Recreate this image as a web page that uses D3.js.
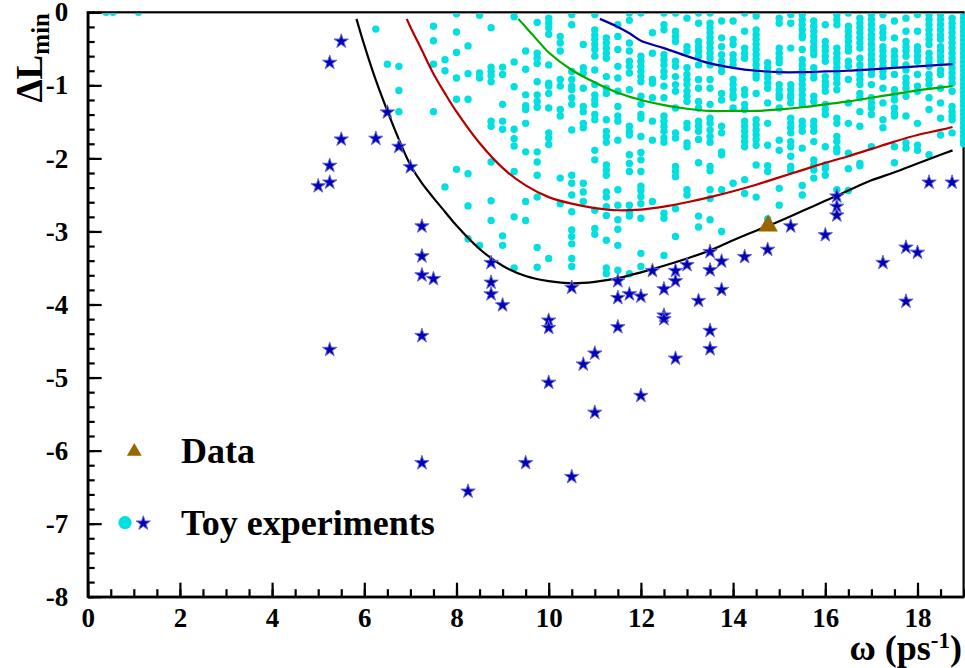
<!DOCTYPE html>
<html>
<head>
<meta charset="utf-8">
<script src="https://cdn.jsdelivr.net/npm/d3@7"></script>
<style>
  body { margin: 0; background: #fff; }
  text { font-family: "Liberation Serif", "Times New Roman", serif; font-weight: bold; }
</style>
</head>
<body>
<svg id="chart" width="965" height="668"></svg>
<script>
// ---- axis ticks ----
const omegaTicks = [0, 2, 4, 6, 8, 10, 12, 14, 16, 18];
const dlTicks = [0, -1, -2, -3, -4, -5, -6, -7, -8];

// ---- toy experiments, cyan markers: one column of ΔLmin values per ω grid point ----
const toyGridOmega = [0.4, 0.55, 1.1, 6.25, 6.5, 6.75, 7.5, 7.75, 8.0, 8.25, 8.5, 8.75, 9.0, 9.25, 9.5, 9.75,
  10.0, 10.25, 10.5, 10.75, 11.0, 11.25, 11.5, 11.75, 12.0, 12.25, 12.5, 12.75, 13.0, 13.25, 13.5, 13.75,
  14.0, 14.25, 14.5, 14.75, 15.0, 15.25, 15.5, 15.75, 16.0, 16.25, 16.5, 16.75, 17.0, 17.25, 17.5, 17.75,
  18.0, 18.25, 18.5, 18.75, 19.0];
const toyGridDL = [
  [0], [0], [0],
  [-0.23],
  [-0.71],
  [-0.74, -1.07, -1.36],
  [-0.19, -0.39, -0.71, -1.36],
  [-0.65, -0.80, -2.39],
  [-0.02, -0.27, -0.55, -0.90, -1.19, -2.15],
  [-0.46, -0.84, -1.19, -2.21, -2.65, -3.10],
  [-0.04, -0.83, -0.90, -3.19],
  [-0.21, -0.75, -0.81, -0.87, -0.95, -1.49, -1.56, -2.05, -2.58, -2.85],
  [-0.75, -0.85, -1.26, -1.49, -1.60, -3.06, -3.19],
  [-0.06, -0.68, -1.02, -1.60, -1.73, -1.83, -2.18, -2.80, -3.50],
  [-0.53, -0.78, -1.13, -1.28, -1.33, -1.52, -1.91, -2.59, -2.85],
  [-0.14, -0.56, -0.63, -0.70, -0.95, -1.13, -1.22, -1.30, -1.91, -2.05, -2.23, -2.53, -3.22, -3.49],
  [-0.08, -0.15, -0.21, -0.30, -0.72, -0.97, -1.01, -1.11, -1.31, -1.65, -1.72, -1.81, -3.37],
  [-0.33, -0.42, -0.53, -0.92, -1.01, -1.33, -1.42, -2.27, -2.62],
  [-0.03, -0.17, -0.81, -0.92, -1.01, -1.06, -1.17, -1.26, -1.61, -2.23, -2.34, -2.50, -2.73, -2.98, -3.07, -3.17, -3.37, -3.48],
  [-0.44, -0.76, -0.83, -1.04, -1.29, -1.36, -1.52, -1.58, -2.34, -2.46, -2.59],
  [-0.03, -0.24, -0.31, -0.37, -0.44, -0.51, -0.60, -0.79, -0.99, -1.13, -1.20, -1.26, -1.40, -1.47, -1.89, -2.02, -2.71, -2.96, -3.04],
  [-0.35, -0.42, -0.49, -0.56, -0.63, -0.88, -1.04, -1.11, -1.47, -1.63, -1.70, -1.78, -2.09, -2.16, -2.23, -2.46, -2.53, -2.66, -2.78, -3.12, -3.50, -3.58],
  [-0.17, -0.33, -0.51, -0.74, -0.90, -1.08, -1.29, -1.42, -1.49, -1.75, -2.43, -2.64, -2.84, -2.97, -3.19, -3.53],
  [-0.01, -0.11, -0.42, -0.53, -0.67, -0.74, -0.83, -1.06, -1.56, -1.63, -1.68, -1.95, -2.07, -2.18, -2.64, -2.73, -2.79, -3.58],
  [-0.01, -0.60, -0.67, -0.74, -0.81, -0.88, -0.95, -1.15, -1.26, -1.40, -1.45, -1.70, -1.92, -2.02, -2.18, -2.38, -2.44, -2.52, -2.62, -2.82, -3.30, -3.48],
  [-0.28, -0.56, -0.92, -0.97, -1.17, -1.49, -1.75, -2.59],
  [-0.01, -0.17, -0.24, -0.58, -0.65, -0.72, -0.81, -0.88, -1.01, -1.17, -1.42, -1.49, -1.56, -1.63, -1.72, -1.78, -2.75, -2.82, -3.33],
  [-0.01, -0.26, -0.33, -0.40, -0.67, -0.74, -0.88, -0.99, -1.08, -1.31, -1.65, -1.72, -2.11, -2.18, -2.25, -2.69, -3.07],
  [-0.08, -0.47, -0.53, -0.76, -0.85, -0.92, -0.99, -1.08, -1.15, -1.22, -1.52, -1.58, -1.79, -1.84, -2.43, -2.50],
  [-0.01, -0.15, -0.40, -0.47, -0.53, -0.60, -0.72, -0.92, -1.04, -1.22, -1.31, -1.49, -1.56, -1.63, -1.74, -2.06, -2.79, -2.94],
  [-0.01, -0.15, -0.21, -0.28, -0.35, -0.42, -0.49, -0.56, -0.63, -0.72, -0.92, -1.04, -1.26, -1.45, -1.52, -1.61, -1.70, -1.78, -2.11, -2.17, -2.43, -2.55, -2.84],
  [-0.12, -0.35, -0.47, -0.58, -0.67, -0.74, -0.81, -1.11, -1.20, -1.56, -1.65, -1.91, -1.95, -2.43, -3.00],
  [-0.12, -0.37, -0.44, -0.58, -0.65, -0.72, -0.92, -0.99, -1.06, -1.13, -1.17, -1.31, -2.34],
  [-0.01, -0.26, -0.49, -0.56, -0.63, -1.06, -1.13, -1.26, -1.33, -1.49, -1.56, -1.63, -1.70, -1.77, -1.84, -2.29, -2.48],
  [-0.05, -0.24, -0.31, -0.37, -0.44, -0.51, -0.58, -0.65, -0.72, -0.79, -0.85, -0.90, -1.11, -1.47, -1.54, -1.61, -1.68, -1.74, -1.82, -2.09, -2.53],
  [-0.69, -0.76, -0.83, -0.90, -0.97, -1.04, -1.24, -1.52, -1.82, -2.10, -2.18, -2.83],
  [-0.08, -0.15, -0.49, -0.56, -0.63, -0.69, -0.81, -0.99, -1.06, -1.13, -1.17, -1.31, -1.75, -1.89, -2.41, -2.64],
  [-0.03, -0.15, -0.49, -0.99, -1.06, -1.13, -1.17, -1.24, -1.45, -1.52, -1.58, -1.65, -1.77, -1.84, -1.97, -2.11, -2.17],
  [-0.03, -0.10, -0.17, -0.24, -0.31, -0.35, -0.51, -0.65, -0.72, -0.79, -0.85, -0.92, -0.99, -1.06, -1.13, -1.20, -1.26, -1.49, -1.56, -1.63, -1.86, -2.37, -2.50],
  [-0.12, -0.19, -0.26, -0.33, -0.40, -0.47, -0.53, -0.58, -0.76, -0.83, -0.90, -1.15, -1.22, -1.49, -1.56, -1.63, -1.77, -2.02, -2.09, -2.16, -2.27],
  [-0.17, -0.40, -0.47, -0.53, -0.60, -0.67, -0.88, -0.95, -1.01, -1.08, -1.26, -1.33, -1.40, -1.84, -2.09, -2.14, -2.23],
  [-0.03, -0.10, -0.17, -0.49, -0.56, -0.63, -0.69, -0.76, -0.83, -0.90, -0.97, -1.06, -1.45, -1.52, -1.70, -1.77, -1.86, -1.91, -2.43],
  [-0.01, -0.19, -0.26, -0.33, -0.40, -0.47, -0.53, -0.67, -0.74, -0.92, -1.24, -1.52, -1.93, -2.14, -2.44],
  [-0.08, -0.15, -0.21, -0.28, -0.35, -0.42, -0.49, -0.63, -0.72, -0.79, -0.85, -0.92, -0.99, -1.11, -1.17, -1.36, -1.56, -2.07, -2.10],
  [-0.03, -0.10, -0.17, -0.24, -0.31, -0.37, -0.44, -0.51, -0.58, -0.65, -0.72, -0.79, -0.85, -0.99, -1.17, -1.24, -1.31, -1.40, -1.84],
  [-0.03, -0.21, -0.28, -0.35, -0.47, -0.53, -0.60, -0.67, -0.74, -0.81, -0.88, -1.04, -1.24, -1.47, -1.58],
  [-0.12, -0.35, -0.53, -0.60, -0.67, -0.72, -0.85, -1.06, -1.13, -1.20, -1.31, -1.38, -1.42, -1.84, -2.06],
  [-0.08, -0.26, -0.40, -0.47, -0.53, -0.60, -0.72, -0.79, -0.90, -0.97, -1.04, -1.15, -1.42, -1.79, -1.86],
  [-0.03, -0.26, -0.47, -0.53, -0.60, -0.67, -0.85, -1.01, -1.08, -1.52, -1.82, -1.89],
  [-0.03, -0.10, -0.17, -0.24, -0.31, -0.37, -0.44, -0.56, -0.63, -0.69, -0.74, -0.85, -0.92, -0.99, -1.17, -1.33, -1.95],
  [-0.03, -0.10, -0.17, -0.24, -0.31, -0.37, -0.47, -0.53, -0.60, -0.67, -0.79, -0.85, -1.04, -1.24, -1.45, -1.68],
  [-0.08, -0.15, -0.21, -0.28, -0.35, -0.42, -0.49, -0.56, -0.63, -0.69, -0.76, -0.83, -0.90, -0.97, -1.08, -1.29, -1.36, -1.42, -1.47, -1.65],
  [-0.02, -0.08, -0.14, -0.20, -0.26, -0.32, -0.38, -0.44, -0.50, -0.56, -0.62, -0.68, -0.74, -0.80, -0.86, -0.92, -0.98, -1.04,
   -1.10, -1.16, -1.22, -1.28, -1.34, -1.40, -1.46, -1.52, -1.58, -1.64, -1.70, -1.76, -1.80]
];

// ---- toy experiments, star markers ----
const toyStarOmega = [5.0, 5.25, 5.25, 5.25, 5.5, 5.5, 6.25, 6.5, 6.75, 7.0, 7.25, 7.25, 7.25, 7.5, 8.75, 8.75, 8.75, 9.0,
  7.25, 5.25, 10.0, 10.0, 10.5, 11.0, 10.75, 11.5, 11.5, 11.5, 10.0, 11.0, 7.25, 9.5, 10.5, 8.25, 12.0,
  11.75, 12.0, 12.25, 12.5, 12.5, 12.5, 12.75, 12.75, 13.0, 12.75, 13.25, 13.5, 13.5, 13.5, 13.5, 13.75, 13.75,
  14.25, 14.75, 15.25, 16.0, 16.25, 16.25, 16.25, 17.25, 17.75, 18.0, 17.75, 18.25, 18.75];
const toyStarDL = [-2.37, -2.32, -2.09, -0.68, -0.39, -1.73, -1.72, -1.36, -1.83, -2.11, -2.92, -3.33, -3.59, -3.64, -3.42, -3.69, -3.85, -4.00,
  -4.42, -4.61, -4.21, -4.31, -3.76, -4.66, -4.81, -3.67, -3.90, -4.30, -5.06, -5.47, -6.16, -6.16, -6.35, -6.55, -5.24,
  -3.85, -3.88, -3.53, -3.78, -4.14, -4.19, -3.53, -3.67, -3.45, -4.73, -3.94, -3.27, -3.52, -4.35, -4.60, -3.40, -3.79,
  -3.34, -3.24, -2.92, -3.04, -2.51, -2.65, -2.77, -3.42, -3.21, -3.28, -3.95, -2.32, -2.32];

// ---- measured data point ----
const dataOmega = [14.76];
const dataDL = [-2.91];

// ---- ΔLmin contour curves ----
const curveBlackOmega = [5.83, 6.0, 6.25, 6.5, 6.75, 7.0, 7.25, 7.5, 7.75, 8.0, 8.5, 9.0, 9.5, 10.0, 10.5, 11.0, 11.5, 12.0,
  12.5, 13.0, 13.5, 14.0, 14.5, 15.0, 15.5, 16.0, 16.5, 17.0, 17.5, 18.0, 18.5, 18.76];
const curveBlackDL = [-0.09, -0.45, -0.93, -1.35, -1.74, -2.09, -2.34, -2.54, -2.73, -2.92, -3.24, -3.47, -3.61, -3.68, -3.71, -3.69, -3.64, -3.56,
  -3.47, -3.37, -3.26, -3.12, -2.99, -2.86, -2.72, -2.58, -2.44, -2.30, -2.19, -2.07, -1.95, -1.89];
const curveRedOmega = [6.92, 7.0, 7.25, 7.5, 7.75, 8.0, 8.5, 9.0, 9.5, 10.0, 10.5, 11.0, 11.5, 12.0, 12.5, 13.0, 13.5, 14.0,
  14.5, 15.0, 15.5, 16.0, 16.5, 17.0, 17.5, 18.0, 18.5, 18.76];
const curveRedDL = [-0.09, -0.20, -0.52, -0.84, -1.11, -1.36, -1.79, -2.13, -2.37, -2.53, -2.62, -2.68, -2.71, -2.70, -2.66, -2.60, -2.53, -2.45,
  -2.36, -2.26, -2.16, -2.06, -1.97, -1.87, -1.77, -1.68, -1.61, -1.57];
const curveGreenOmega = [9.34, 9.5, 9.88, 10.0, 10.5, 11.0, 11.5, 12.0, 12.5, 13.0, 13.5, 14.0, 14.5, 15.0, 15.5, 16.0, 16.5,
  17.0, 17.5, 18.0, 18.5, 18.76];
const curveGreenDL = [-0.09, -0.20, -0.47, -0.55, -0.79, -0.96, -1.10, -1.20, -1.27, -1.32, -1.35, -1.35, -1.35, -1.33, -1.30, -1.26, -1.22,
  -1.17, -1.12, -1.07, -1.03, -1.01];
const curveBlueOmega = [11.11, 11.5, 11.76, 12.0, 12.5, 13.0, 13.5, 14.0, 14.5, 15.0, 15.5, 16.0, 16.5, 17.0, 17.5, 18.0, 18.5, 18.76];
const curveBlueDL = [-0.09, -0.20, -0.29, -0.39, -0.49, -0.60, -0.70, -0.76, -0.80, -0.82, -0.82, -0.81, -0.80, -0.78, -0.76, -0.74, -0.72, -0.71];

const legendLabels = ["Data", "Toy experiments"];

// ---- layout ----
const svg = d3.select("#chart");
const x = d3.scaleLinear().domain([0, 19]).range([87.7, 963.6]);
const y = d3.scaleLinear().domain([-8, 0]).range([596.7, 12.3]);
const cyan = "#00e0e0", starBlue = "#0000b4", starEdge = "#6464dc", dataBrown = "#996600";

// clip region for the scattered markers (keeps them inside the frame)
svg.append("defs").append("clipPath").attr("id", "plotClip")
  .append("rect").attr("x", x(0)).attr("y", y(0) + 1.1).attr("width", 975 - x(0)).attr("height", y(-8) - y(0));

// frame (top and right edges)
svg.append("rect")
  .attr("x", x(0)).attr("y", y(0)).attr("width", x(19) - x(0)).attr("height", y(-8) - y(0))
  .attr("fill", "none").attr("stroke", "#000").attr("stroke-width", 2.2);

// cyan toy markers
const gridPoints = [];
toyGridOmega.forEach((w, i) => toyGridDL[i].forEach(v => gridPoints.push([w, v])));
svg.append("g").attr("clip-path", "url(#plotClip)")
  .selectAll("circle").data(gridPoints).join("circle")
  .attr("cx", d => x(d[0])).attr("cy", d => y(d[1])).attr("r", 3.7).attr("fill", cyan);

// contour curves
const line = d3.line().x(d => x(d[0])).y(d => y(d[1])).curve(d3.curveCatmullRom.alpha(0.5));
const curves = [
  [curveBlackOmega, curveBlackDL, "#000000"],
  [curveRedOmega, curveRedDL, "#b40000"],
  [curveGreenOmega, curveGreenDL, "#00aa00"],
  [curveBlueOmega, curveBlueDL, "#0000aa"]
];
curves.forEach(([ws, vs, col]) => {
  svg.append("path").datum(ws.map((w, i) => [w, vs[i]]))
    .attr("d", line).attr("fill", "none").attr("stroke", col).attr("stroke-width", 2.2);
});

// star markers
const star = d3.symbol().type(d3.symbolStar).size(64);
svg.append("g").selectAll("path").data(toyStarOmega.map((w, i) => [w, toyStarDL[i]])).join("path")
  .attr("d", star)
  .attr("transform", d => `translate(${x(d[0])},${y(d[1]) + 0.6})`)
  .attr("fill", starBlue).attr("stroke", starEdge).attr("stroke-width", 1);

// data triangle
const tri = d3.symbol().type(d3.symbolTriangle).size(165);
svg.append("g").selectAll("path").data(dataOmega.map((w, i) => [w, dataDL[i]])).join("path")
  .attr("d", tri)
  .attr("transform", d => `translate(${x(d[0])},${y(d[1]) + 1})`)
  .attr("fill", dataBrown);

// axes
const axisFont = 27;
const plainNumber = d => String(d);
const yMajor = d3.axisLeft(y).tickValues(dlTicks).tickSize(-14).tickSizeOuter(0).tickPadding(19.5)
  .tickFormat(plainNumber);
const yMinor = d3.axisLeft(y).tickValues(d3.range(0, 41).map(i => -i * 0.2)).tickSize(-7).tickSizeOuter(0).tickFormat("");
const xMajor = d3.axisBottom(x).tickValues(omegaTicks).tickSize(-14).tickSizeOuter(0).tickPadding(11)
  .tickFormat(plainNumber);
const xMinor = d3.axisBottom(x).tickValues(d3.range(0, 39).map(i => i * 0.5)).tickSize(-7.5).tickSizeOuter(0).tickFormat("");

function styleAxis(g) {
  g.selectAll("path, line").attr("stroke", "#000").attr("stroke-width", 2.2);
  g.selectAll("text").attr("fill", "#000").attr("font-size", axisFont)
    .attr("font-family", "Liberation Serif, Times New Roman, serif").attr("font-weight", "bold");
}
svg.append("g").attr("transform", `translate(${x(0)},0)`).call(yMinor).call(styleAxis);
svg.append("g").attr("transform", `translate(${x(0)},0)`).call(yMajor).call(styleAxis);
svg.append("g").attr("transform", `translate(0,${y(-8)})`).call(xMinor).call(styleAxis);
svg.append("g").attr("transform", `translate(0,${y(-8)})`).call(xMajor).call(styleAxis);

// axis titles
const xt = svg.append("text").attr("x", 962).attr("y", 660).attr("text-anchor", "end").attr("font-size", 36);
xt.append("tspan").text("ω (ps");
xt.append("tspan").attr("font-size", 23).attr("dy", -12).text("-1");
xt.append("tspan").attr("dy", 12).text(")");

const yt = svg.append("text").attr("transform", "translate(42,13) rotate(-90)")
  .attr("text-anchor", "end").attr("font-size", 37);
yt.append("tspan").text("ΔL");
yt.append("tspan").attr("font-size", 25).attr("dy", 7).text("min");

// legend
svg.append("path").attr("d", d3.symbol().type(d3.symbolTriangle).size(95))
  .attr("transform", "translate(134.3,451.5)").attr("fill", dataBrown);
svg.append("circle").attr("cx", 125).attr("cy", 522.7).attr("r", 6.6).attr("fill", cyan);
svg.append("path").attr("d", d3.symbol().type(d3.symbolStar).size(64))
  .attr("transform", "translate(143.3,523.3)").attr("fill", starBlue).attr("stroke", starEdge).attr("stroke-width", 1);
svg.append("text").attr("x", 181).attr("y", 463).attr("font-size", 36).text(legendLabels[0]);
svg.append("text").attr("x", 181).attr("y", 535).attr("font-size", 36).text(legendLabels[1]);
</script>
</body>
</html>
